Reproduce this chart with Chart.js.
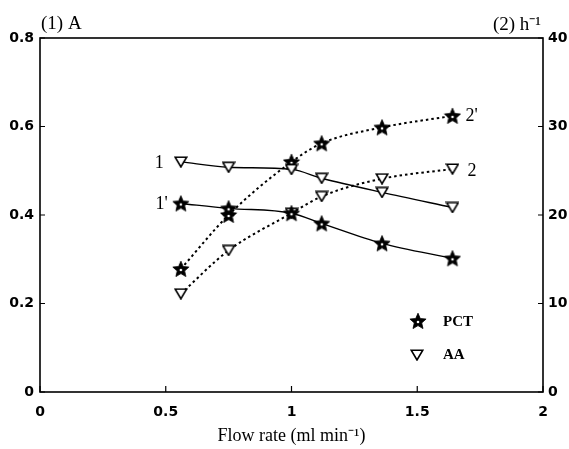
<!DOCTYPE html>
<html>
<head>
<meta charset="utf-8">
<script src="https://cdn.jsdelivr.net/npm/chart.js@4.4.0/dist/chart.umd.min.js"></script>
<style>
  html, body { margin: 0; padding: 0; background: #fff; }
</style>
</head>
<body>
<canvas id="c1" width="569" height="449"></canvas>
<script>
// data
var flowRate = [0.56, 0.75, 1.0, 1.12, 1.36, 1.64];
var aaA      = [0.52, 0.508, 0.503, 0.483, 0.451, 0.417];   // curve 1  (left axis, A)
var pctA     = [0.426, 0.415, 0.404, 0.381, 0.336, 0.302];  // curve 1' (left axis, A)
var aaRate   = [11.1, 16.0, 20.2, 22.1, 24.1, 25.2];        // curve 2  (right axis, h-1)
var pctRate  = [13.9, 20.0, 26.0, 28.1, 29.9, 31.2];        // curve 2' (right axis, h-1)
var xTicks = [0, 0.5, 1, 1.5, 2];
var leftTicks = [0, 0.2, 0.4, 0.6, 0.8];
var rightTicks = [0, 10, 20, 30, 40];

function pts(xs, ys) {
  return xs.map(function (x, i) { return { x: x, y: ys[i] }; });
}

// marker images
function starImg() {
  var c = document.createElement("canvas");
  c.width = 18; c.height = 18;
  var g = c.getContext("2d");
  g.beginPath();
  for (var i = 0; i < 10; i++) {
    var r = i % 2 == 0 ? 8.5 : 3.9;
    var a = -Math.PI / 2 + i * Math.PI / 5;
    var px = 9 + r * Math.cos(a), py = 9.7 + r * Math.sin(a);
    if (i == 0) g.moveTo(px, py); else g.lineTo(px, py);
  }
  g.closePath();
  g.fillStyle = "#000";
  g.fill();
  g.lineWidth = 0.8;
  g.strokeStyle = "#000";
  g.stroke();
  g.beginPath();
  g.arc(9, 10, 1.3, 0, Math.PI * 2);
  g.fillStyle = "#fff";
  g.fill();
  return c;
}
function triImg() {
  var c = document.createElement("canvas");
  c.width = 14; c.height = 12;
  var g = c.getContext("2d");
  g.beginPath();
  g.moveTo(1.2, 1.2);
  g.lineTo(12.8, 1.2);
  g.lineTo(7, 11);
  g.closePath();
  g.fillStyle = "#fff";
  g.fill();
  g.lineWidth = 1.6;
  g.strokeStyle = "#000";
  g.stroke();
  return c;
}
var star = starImg();
var tri = triImg();

var serif = "'Liberation Serif', 'Times New Roman', serif";
var sans = "'DejaVu Sans', 'Liberation Sans', Arial, sans-serif";

function plain(v) { return String(Math.round(v * 100) / 100); }

// box, inward ticks, curve labels, top axis labels, legend
var decor = {
  id: "decor",
  afterDraw: function (chart) {
    var ctx = chart.ctx, a = chart.chartArea;
    var sx = chart.scales.x, sl = chart.scales.y, sr = chart.scales.y1;
    ctx.save();
    ctx.strokeStyle = "#000";
    ctx.lineWidth = 1.6;
    ctx.strokeRect(a.left, a.top, a.right - a.left, a.bottom - a.top);
    ctx.lineWidth = 1.2;
    ctx.beginPath();
    xTicks.forEach(function (v) {
      var p = sx.getPixelForValue(v);
      ctx.moveTo(p, a.bottom); ctx.lineTo(p, a.bottom - 6);
    });
    leftTicks.forEach(function (v) {
      var p = sl.getPixelForValue(v);
      ctx.moveTo(a.left, p); ctx.lineTo(a.left + 5, p);
    });
    rightTicks.forEach(function (v) {
      var p = sr.getPixelForValue(v);
      ctx.moveTo(a.right, p); ctx.lineTo(a.right - 5, p);
    });
    ctx.stroke();

    ctx.fillStyle = "#000";
    ctx.font = "19px " + serif;
    ctx.textBaseline = "middle";
    ctx.textAlign = "left";
    ctx.fillText("(1) A", a.left + 1, 24);
    ctx.textAlign = "right";
    ctx.fillText("(2) h\u207B\u00B9", a.right - 2, 25);

    // curve numbers
    var m1 = chart.getDatasetMeta(0).data, m1p = chart.getDatasetMeta(1).data;
    var m2 = chart.getDatasetMeta(2).data, m2p = chart.getDatasetMeta(3).data;
    ctx.font = "18px " + serif;
    ctx.textAlign = "right";
    ctx.fillText("1", m1[0].x - 17, m1[0].y + 1);
    ctx.fillText("1'", m1p[0].x - 13, m1p[0].y + 1);
    ctx.textAlign = "left";
    ctx.fillText("2'", m2p[m2p.length - 1].x + 13, m2p[m2p.length - 1].y);
    ctx.fillText("2", m2[m2.length - 1].x + 15, m2[m2.length - 1].y + 2);

    // legend
    ctx.drawImage(star, 409, 312);
    ctx.drawImage(tri, 410, 349);
    ctx.font = "bold 15px " + serif;
    ctx.fillText("PCT", 443, 322);
    ctx.fillText("AA", 443, 355);
    ctx.restore();
  }
};

var tickFont = { family: sans, size: 14, weight: "bold" };

var ctx = document.getElementById("c1");
var myChart = new Chart(ctx, {
  type: "line",
  data: {
    datasets: [
      {
        label: "AA (A)",
        data: pts(flowRate, aaA),
        yAxisID: "y",
        borderColor: "#000",
        borderWidth: 1.4,
        pointStyle: tri,
        cubicInterpolationMode: "monotone"
      },
      {
        label: "PCT (A)",
        data: pts(flowRate, pctA),
        yAxisID: "y",
        borderColor: "#000",
        borderWidth: 1.4,
        pointStyle: star,
        cubicInterpolationMode: "monotone"
      },
      {
        label: "AA (h-1)",
        data: pts(flowRate, aaRate),
        yAxisID: "y1",
        borderColor: "#000",
        borderWidth: 2,
        borderDash: [2.5, 3],
        pointStyle: tri,
        cubicInterpolationMode: "monotone"
      },
      {
        label: "PCT (h-1)",
        data: pts(flowRate, pctRate),
        yAxisID: "y1",
        borderColor: "#000",
        borderWidth: 2,
        borderDash: [2.5, 3],
        pointStyle: star,
        cubicInterpolationMode: "monotone"
      }
    ]
  },
  options: {
    responsive: false,
    animation: false,
    layout: { padding: { top: 38, left: 0, right: 0, bottom: 0 } },
    plugins: {
      legend: { display: false },
      tooltip: { enabled: false }
    },
    scales: {
      x: {
        type: "linear",
        min: 0,
        max: 2,
        afterBuildTicks: function (s) { s.ticks = xTicks.map(function (v) { return { value: v }; }); },
        ticks: {
          color: "#000",
          font: tickFont,
          padding: 12,
          maxRotation: 0,
          callback: plain
        },
        grid: { display: false, drawTicks: false },
        border: { display: false },
        title: {
          display: true,
          text: "Flow rate (ml min\u207B\u00B9)",
          color: "#000",
          font: { family: serif, size: 18 },
          padding: { top: 0, bottom: 2 }
        },
        afterFit: function (s) { s.height = 57; }
      },
      y: {
        position: "left",
        min: 0,
        max: 0.8,
        afterBuildTicks: function (s) { s.ticks = leftTicks.map(function (v) { return { value: v }; }); },
        ticks: {
          color: "#000",
          font: tickFont,
          padding: 6,
          callback: plain
        },
        grid: { display: false, drawTicks: false },
        border: { display: false },
        afterFit: function (s) { s.width = 40; }
      },
      y1: {
        position: "right",
        min: 0,
        max: 40,
        afterBuildTicks: function (s) { s.ticks = rightTicks.map(function (v) { return { value: v }; }); },
        ticks: {
          color: "#000",
          font: tickFont,
          padding: 5,
          callback: plain
        },
        grid: { display: false, drawTicks: false },
        border: { display: false },
        afterFit: function (s) { s.width = 26; }
      }
    }
  },
  plugins: [decor]
});
</script>
</body>
</html>
